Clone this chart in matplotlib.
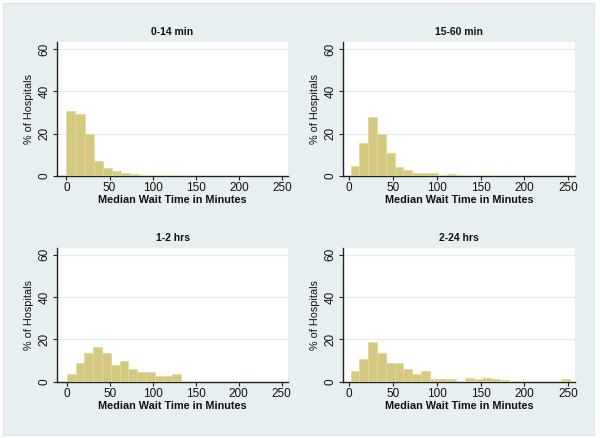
import matplotlib
matplotlib.use("Agg")
import matplotlib.pyplot as plt
import numpy as np
from matplotlib.patches import Rectangle

# ---- data ----
titles = ["0-14 min", "15-60 min", "1-2 hrs", "2-24 hrs"]

p1_start, p1_width = 0.0, 10.5
p1_pct = [30.7, 29.1, 19.8, 7.3, 3.6, 2.5, 1.3, 1.0, 0.5, 0.4, 0.3, 0.4, 0.3]

p2_start, p2_width = 2.0, 10.0
p2_pct = [4.8, 15.5, 27.8, 19.8, 10.7, 4.2, 2.7, 1.4, 1.4, 1.4, 0.3, 0.8, 0.5,
          0.3, 0.2, 0.3, 0.4, 0.2]

p3_start, p3_width = 0.0, 10.2
p3_pct = [3.5, 8.7, 13.4, 16.5, 13.4, 7.9, 9.9, 6.0, 4.7, 4.7, 2.7, 2.7, 3.5,
          0.0, 0.0, 0.0, 0.0, 0.2, 0.0, 0.0, 0.2]

p4_start, p4_width = 2.0, 10.0
p4_pct = [5.2, 10.6, 18.9, 13.7, 8.7, 8.7, 5.8, 3.6, 5.2, 1.3, 1.3, 1.3, 0.0,
          1.6, 1.1, 1.9, 1.3, 0.8, 0.3, 0.3, 0.3, 0.0, 0.3, 0.0, 1.1]

xticks = [0, 50, 100, 150, 200, 250]
yticks = [0, 20, 40, 60]
xlabel = "Median Wait Time in Minutes"
ylabel = "% of Hospitals"

panels = [
    (p1_start, p1_width, p1_pct),
    (p2_start, p2_width, p2_pct),
    (p3_start, p3_width, p3_pct),
    (p4_start, p4_width, p4_pct),
]

plt.rcParams['font.family'] = ['Liberation Sans', 'DejaVu Sans']

W, H = 600, 438
fig = plt.figure(figsize=(6.0, 4.38), dpi=100)
fig.patch.set_facecolor('white')
bg = Rectangle((3 / W, 1 - 435 / H), (594 - 3) / W, (435 - 3) / H,
               transform=fig.transFigure, facecolor='#e8eff1',
               edgecolor='#dde5e8', lw=0.8, zorder=-10)
fig.add_artist(bg)

positions = [
    [57 / W, 1 - 176 / H, (288 - 57) / W, (176 - 42) / H],
    [343 / W, 1 - 176 / H, (575 - 343) / W, (176 - 42) / H],
    [57 / W, 1 - 381.7 / H, (288 - 57) / W, (381.7 - 247.7) / H],
    [343 / W, 1 - 381.7 / H, (575 - 343) / W, (381.7 - 247.7) / H],
]
xlims = [(-10.9, 257), (-6.8, 257.6), (-11.6, 257.3), (-6.8, 257.6)]

bar_color = '#d5c982'
edge_color = '#e2d9a2'

for i, (start, width, pct) in enumerate(panels):
    ax = fig.add_axes(positions[i], zorder=1)
    ax.set_facecolor('white')
    edges = start + width * np.arange(len(pct))
    ax.bar(edges, pct, width=width, align='edge', color=bar_color,
           edgecolor=edge_color, linewidth=0.6, zorder=3)
    ax.set_xlim(*xlims[i])
    ax.set_ylim(0, 63.3)
    ax.set_xticks(xticks)
    ax.set_yticks(yticks)
    ax.set_yticklabels([str(v) for v in yticks], rotation=90, va='center')
    for g in yticks[1:]:
        ax.axhline(g, color='#e6eef0', lw=1.0, zorder=1)
    for s in ['top', 'right']:
        ax.spines[s].set_visible(False)
    for s in ['left', 'bottom']:
        ax.spines[s].set_color('#222222')
        ax.spines[s].set_linewidth(1.0)
    ax.tick_params(axis='both', length=3, width=0.8, color='#222222',
                   labelsize=8.5, pad=1.5, labelcolor='#111111')
    ax.set_title(titles[i], fontsize=7.5, pad=5, color='#111111',
                 fontweight='bold')
    ax.text(0.5, -0.18, xlabel, transform=ax.transAxes, ha='center',
            va='center', fontsize=7.8, fontweight='bold', color='#111111')
    ax.text(-0.12, 0.5, ylabel, transform=ax.transAxes, ha='center',
            va='center', rotation=90, fontsize=7.8, color='#111111')

fig.savefig('out.png', dpi=100, facecolor=fig.get_facecolor())
